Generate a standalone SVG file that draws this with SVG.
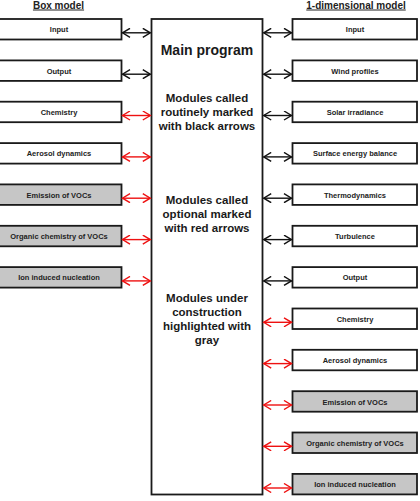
<svg xmlns="http://www.w3.org/2000/svg" width="420" height="501" viewBox="0 0 420 501">
<defs>
<style>
.box{fill:#fff;stroke:#1a1a1a;stroke-width:1.8}
.gray{fill:#c6c6c6}
.lbl{font-family:"Liberation Sans",Arial,sans-serif;font-weight:bold;font-size:7.5px;fill:#222;text-anchor:middle}
.title{font-family:"Liberation Sans",Arial,sans-serif;font-weight:bold;font-size:10px;fill:#222;text-anchor:middle;text-decoration:underline}
.main{font-family:"Liberation Sans",Arial,sans-serif;font-weight:bold;text-anchor:middle;fill:#1a1a1a}
.ab{stroke:#111;stroke-width:1.4;fill:none;marker-start:url(#hb);marker-end:url(#hb)}
.ar{stroke:#ee1111;stroke-width:1.4;fill:none;marker-start:url(#hr);marker-end:url(#hr)}
</style>
<marker id="hb" viewBox="0 0 10 10" refX="8.5" refY="5" markerWidth="10" markerHeight="10" markerUnits="userSpaceOnUse" orient="auto-start-reverse">
<path d="M1,0.5 L8.5,5 L1,9.5" fill="none" stroke="#111" stroke-width="1.4"/>
</marker>
<marker id="hr" viewBox="0 0 10 10" refX="8.5" refY="5" markerWidth="10" markerHeight="10" markerUnits="userSpaceOnUse" orient="auto-start-reverse">
<path d="M1,0.5 L8.5,5 L1,9.5" fill="none" stroke="#ee1111" stroke-width="1.4"/>
</marker>
</defs>
<rect width="420" height="501" fill="#fff"/>
<text class="title" x="58.5" y="8.5">Box model</text>
<text class="title" x="356" y="8.5">1-dimensional model</text>
<g id="main">
<rect class="box" x="151.5" y="19" width="111" height="475.5"/>
<text class="main" x="207" y="55" font-size="14">Main program</text>
<text class="main" x="207" font-size="11.5"><tspan x="207" y="102">Modules called</tspan><tspan x="207" y="116">routinely marked</tspan><tspan x="207" y="130">with black arrows</tspan></text>
<text class="main" x="207" font-size="11.5"><tspan x="207" y="204">Modules called</tspan><tspan x="207" y="218">optional marked</tspan><tspan x="207" y="232">with red arrows</tspan></text>
<text class="main" x="207" font-size="11.5"><tspan x="207" y="302">Modules under</tspan><tspan x="207" y="316">construction</tspan><tspan x="207" y="330">highlighted with</tspan><tspan x="207" y="344">gray</tspan></text>
</g>
<g id="box-input"><rect class="box" x="-3" y="19" width="124.5" height="20.5"/><text class="lbl" x="59" y="32.3">Input</text></g>
<g id="box-output"><rect class="box" x="-3" y="60.4" width="124.5" height="20.5"/><text class="lbl" x="59" y="73.7">Output</text></g>
<g id="box-chemistry"><rect class="box" x="-3" y="101.7" width="124.5" height="20.5"/><text class="lbl" x="59" y="115">Chemistry</text></g>
<g id="box-aerosol"><rect class="box" x="-3" y="143.1" width="124.5" height="20.5"/><text class="lbl" x="59" y="156.4">Aerosol dynamics</text></g>
<g id="box-emission"><rect class="box gray" x="-3" y="184.4" width="124.5" height="20.5"/><text class="lbl" x="59" y="197.7">Emission of VOCs</text></g>
<g id="box-organic"><rect class="box gray" x="-3" y="225.8" width="124.5" height="20.5"/><text class="lbl" x="59" y="239.1">Organic chemistry of VOCs</text></g>
<g id="box-ion"><rect class="box gray" x="-3" y="267.1" width="124.5" height="20.5"/><text class="lbl" x="59" y="280.4">Ion induced nucleation</text></g>
<g id="d1-input"><rect class="box" x="292.5" y="19" width="124.5" height="20.5"/><text class="lbl" x="355" y="32.3">Input</text></g>
<g id="d1-wind"><rect class="box" x="292.5" y="60.4" width="124.5" height="20.5"/><text class="lbl" x="355" y="73.7">Wind profiles</text></g>
<g id="d1-solar"><rect class="box" x="292.5" y="101.7" width="124.5" height="20.5"/><text class="lbl" x="355" y="115">Solar irradiance</text></g>
<g id="d1-surface"><rect class="box" x="292.5" y="143.1" width="124.5" height="20.5"/><text class="lbl" x="355" y="156.4">Surface energy balance</text></g>
<g id="d1-thermo"><rect class="box" x="292.5" y="184.4" width="124.5" height="20.5"/><text class="lbl" x="355" y="197.7">Thermodynamics</text></g>
<g id="d1-turb"><rect class="box" x="292.5" y="225.8" width="124.5" height="20.5"/><text class="lbl" x="355" y="239.1">Turbulence</text></g>
<g id="d1-output"><rect class="box" x="292.5" y="267.1" width="124.5" height="20.5"/><text class="lbl" x="355" y="280.4">Output</text></g>
<g id="d1-chemistry"><rect class="box" x="292.5" y="308.5" width="124.5" height="20.5"/><text class="lbl" x="355" y="321.8">Chemistry</text></g>
<g id="d1-aerosol"><rect class="box" x="292.5" y="349.8" width="124.5" height="20.5"/><text class="lbl" x="355" y="363.1">Aerosol dynamics</text></g>
<g id="d1-emission"><rect class="box gray" x="292.5" y="391.2" width="124.5" height="20.5"/><text class="lbl" x="355" y="404.5">Emission of VOCs</text></g>
<g id="d1-organic"><rect class="box gray" x="292.5" y="432.5" width="124.5" height="20.5"/><text class="lbl" x="355" y="445.8">Organic chemistry of VOCs</text></g>
<g id="d1-ion"><rect class="box gray" x="292.5" y="473.9" width="124.5" height="20.5"/><text class="lbl" x="355" y="487.2">Ion induced nucleation</text></g>
<g id="connectors">
<line class="ab" x1="122.5" y1="32.8" x2="150.3" y2="32.8"/>
<line class="ab" x1="122.5" y1="74.2" x2="150.3" y2="74.2"/>
<line class="ar" x1="122.5" y1="115.5" x2="150.3" y2="115.5"/>
<line class="ar" x1="122.5" y1="156.9" x2="150.3" y2="156.9"/>
<line class="ar" x1="122.5" y1="198.2" x2="150.3" y2="198.2"/>
<line class="ar" x1="122.5" y1="239.6" x2="150.3" y2="239.6"/>
<line class="ar" x1="122.5" y1="280.9" x2="150.3" y2="280.9"/>
<line class="ab" x1="263.7" y1="32.8" x2="291.5" y2="32.8"/>
<line class="ab" x1="263.7" y1="74.2" x2="291.5" y2="74.2"/>
<line class="ab" x1="263.7" y1="115.5" x2="291.5" y2="115.5"/>
<line class="ab" x1="263.7" y1="156.9" x2="291.5" y2="156.9"/>
<line class="ab" x1="263.7" y1="198.2" x2="291.5" y2="198.2"/>
<line class="ab" x1="263.7" y1="239.6" x2="291.5" y2="239.6"/>
<line class="ab" x1="263.7" y1="280.9" x2="291.5" y2="280.9"/>
<line class="ar" x1="263.7" y1="322.3" x2="291.5" y2="322.3"/>
<line class="ar" x1="263.7" y1="363.6" x2="291.5" y2="363.6"/>
<line class="ar" x1="263.7" y1="405" x2="291.5" y2="405"/>
<line class="ar" x1="263.7" y1="446.3" x2="291.5" y2="446.3"/>
<line class="ar" x1="263.7" y1="488" x2="291.5" y2="488"/>
</g>
</svg>
